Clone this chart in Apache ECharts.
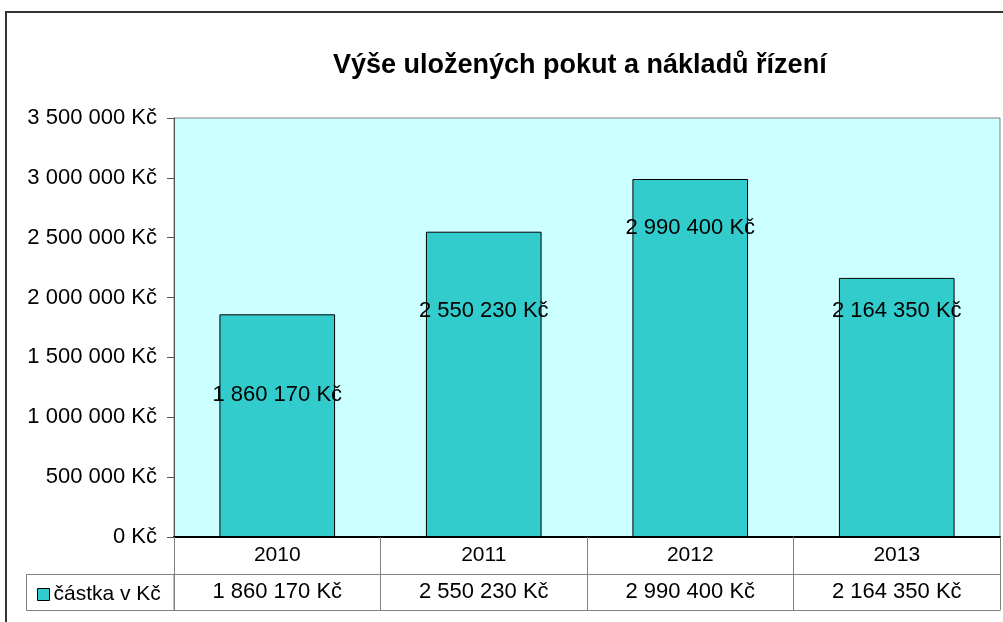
<!DOCTYPE html>
<html>
<head>
<meta charset="utf-8">
<script src="https://cdn.jsdelivr.net/npm/echarts@6/dist/echarts.min.js"></script>
<style>
html, body { margin: 0; padding: 0; background: #fff; }
#chart { width: 1003px; height: 622px; }
</style>
</head>
<body>
<div id="chart"></div>
<script>
var years = ['2010', '2011', '2012', '2013'];
var amounts = [1860170, 2550230, 2990400, 2164350];
var seriesName = 'částka v Kč';
var titleText = 'Výše uložených pokut a nákladů řízení';

// where excel dropped each label below the bar top (px)
var labelDrop = [70, 68, 38, 22];

var font = '"Liberation Sans", Arial, sans-serif';

function kc(v) {
	return String(v).replace(/\B(?=(\d{3})+(?!\d))/g, ' ') + ' Kč';
}

var chart = echarts.init(document.getElementById('chart'));

var barData = amounts.map(function(v, i) {
	return {
		value: v,
		label: { offset: [0, labelDrop[i]] }
	};
});

chart.setOption({
	animation: false,
	textStyle: { fontFamily: font },
	title: {
		text: titleText,
		left: 328,
		top: 47,
		textStyle: {
			fontFamily: font,
			fontSize: 27,
			fontWeight: 'bold',
			color: '#000'
		}
	},
	legend: {
		left: 32,
		top: 579,
		icon: 'rect',
		itemWidth: 12,
		itemHeight: 12,
		itemStyle: { borderColor: '#000', borderWidth: 1 },
		textStyle: { fontFamily: font, fontSize: 21, color: '#000', padding: [0, 0, 0, -1] },
		data: [seriesName]
	},
	grid: {
		left: 174,
		right: 3,
		top: 118,
		bottom: 85,
		show: true,
		backgroundColor: '#ccffff',
		borderColor: '#808080',
		borderWidth: 1
	},
	xAxis: [{
		type: 'category',
		data: years,
		position: 'bottom',
		axisLine: { lineStyle: { color: '#000', width: 2 } },
		axisTick: { show: true, length: 73, lineStyle: { color: '#808080' } },
		axisLabel: { fontSize: 21, color: '#000', margin: 8 }
	}, {
		type: 'category',
		data: years,
		position: 'bottom',
		offset: 37,
		axisLine: { lineStyle: { color: '#808080' } },
		axisTick: { show: false },
		axisLabel: {
			fontSize: 22,
			color: '#000',
			margin: 7,
			formatter: function(val, idx) { return kc(amounts[idx]); }
		}
	}, {
		type: 'category',
		data: years,
		position: 'bottom',
		offset: 73,
		axisLine: { lineStyle: { color: '#808080' } },
		axisTick: { show: false },
		axisLabel: { show: false }
	}],
	yAxis: {
		type: 'value',
		min: 0,
		max: 3500000,
		interval: 500000,
		axisLine: { show: true, lineStyle: { color: '#555' } },
		axisTick: { show: true, length: 7, lineStyle: { color: '#555' } },
		splitLine: { show: false },
		axisLabel: {
			fontSize: 22,
			color: '#000',
			margin: 17,
			formatter: function(v) { return kc(v); }
		}
	},
	series: [{
		name: seriesName,
		type: 'bar',
		xAxisIndex: 0,
		data: barData,
		barCategoryGap: '44%',
		itemStyle: {
			color: '#33cccc',
			borderColor: '#000',
			borderWidth: 1
		},
		label: {
			show: true,
			position: 'insideTop',
			distance: 0,
			fontSize: 22,
			color: '#000',
			formatter: function(p) { return kc(p.value); }
		}
	}],
	graphic: [{
		type: 'rect',
		shape: { x: 6, y: 12, width: 1010, height: 620 },
		style: { fill: null, stroke: '#333', lineWidth: 2 },
		silent: true,
		z: -1
	}, {
		type: 'rect',
		shape: { x: 26.5, y: 574.5, width: 147.5, height: 36 },
		style: { fill: null, stroke: '#808080', lineWidth: 1 },
		silent: true
	}]
});
window.onresize = chart.resize;
</script>
</body>
</html>
